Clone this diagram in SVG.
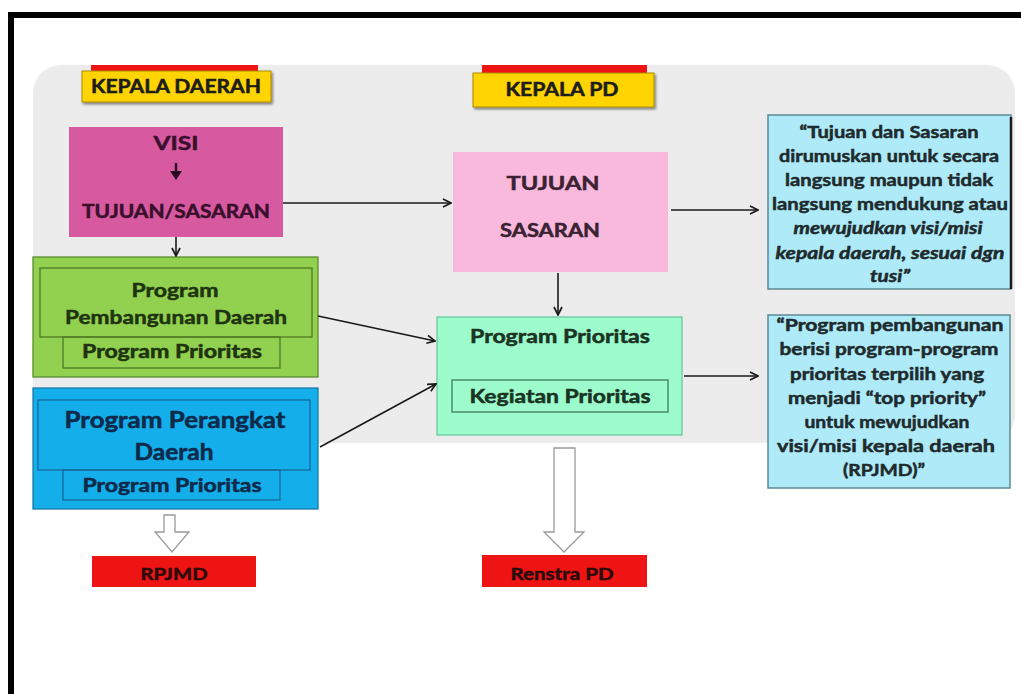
<svg xmlns="http://www.w3.org/2000/svg" width="1021" height="694" viewBox="0 0 1021 694">
<defs>
<marker id="arr" viewBox="0 0 10 10" refX="9" refY="5" markerWidth="10" markerHeight="10" markerUnits="userSpaceOnUse" orient="auto">
<path d="M1,1 L9,5 L1,9" fill="none" stroke="#1a1a1a" stroke-width="1.7"/>
</marker>
<filter id="sh" x="-5%" y="-10%" width="115%" height="130%">
<feDropShadow dx="1.5" dy="2" stdDeviation="1" flood-color="#000" flood-opacity="0.45"/>
</filter>
</defs>
<style>
text{font-family:Lato,"Open Sans","Liberation Sans",sans-serif;font-weight:bold;text-anchor:middle;fill:#1c1c1c;stroke:currentColor;stroke-width:0.5;color:#1c1c1c}
.conn line{stroke:#1a1a1a;stroke-width:1.6;marker-end:url(#arr)}
.red{fill:#ee1414}
.yel{fill:#ffd400;stroke:#a88a00;stroke-width:1}
.inG{fill:none;stroke:#4e7a26;stroke-width:1.3}
.inB{fill:none;stroke:#16699a;stroke-width:1.3}
.cyan{fill:#aeeaf8;stroke:#5a8894;stroke-width:1.5}
.q{font-size:17px;fill:#1e2a2c;color:#1e2a2c}
.it{font-style:italic}
.blk{fill:#fff;stroke:#9a9a9a;stroke-width:1.3}
.vis{fill:#3a0f2c;color:#3a0f2c}
.grn{fill:#1e3410;color:#1e3410}
.blu{fill:#0e2a4a;color:#0e2a4a}
.pnk{fill:#3a2232;color:#3a2232}
.mnt{fill:#1a3424;color:#1a3424}
.rd{fill:#2a0a0a;color:#2a0a0a}
</style>
<rect width="1021" height="694" fill="#fff"/>
<rect x="11" y="15" width="1040" height="700" fill="none" stroke="#000" stroke-width="6"/>
<rect x="33" y="65" width="982" height="378" rx="28" fill="#ececec"/>

<g id="kepala-daerah">
<rect class="red" x="91" y="65" width="167" height="7"/>
<rect class="yel" x="82" y="71" width="189" height="31" filter="url(#sh)"/>
<text x="176" y="93" font-size="18" textLength="170" lengthAdjust="spacingAndGlyphs">KEPALA DAERAH</text>
</g>

<g id="kepala-pd">
<rect class="red" x="482" y="65" width="165" height="8"/>
<rect class="yel" x="473" y="73" width="181" height="34" filter="url(#sh)"/>
<text x="562" y="96" font-size="18" textLength="113" lengthAdjust="spacingAndGlyphs">KEPALA PD</text>
</g>

<g id="visi">
<rect x="69" y="127" width="214" height="110" fill="#d75aa0"/>
<text class="vis" x="176" y="150" font-size="19" textLength="45" lengthAdjust="spacingAndGlyphs">VISI</text>
<path d="M176,163 V173" stroke="#2a0a20" stroke-width="2.5"/>
<path d="M170,171 L182,171 L176,180 Z" fill="#2a0a20"/>
<text class="vis" x="176" y="218" font-size="18" textLength="188" lengthAdjust="spacingAndGlyphs">TUJUAN/SASARAN</text>
</g>

<g id="program-pembangunan-daerah">
<rect x="33" y="257" width="285" height="120" fill="#92d050" stroke="#5a8a30" stroke-width="1.3"/>
<rect class="inG" x="40" y="268" width="272" height="69"/>
<rect class="inG" x="63" y="337" width="217" height="31"/>
<text class="grn" x="175" y="297" font-size="19" textLength="87" lengthAdjust="spacingAndGlyphs">Program</text>
<text class="grn" x="176" y="324" font-size="19" textLength="222" lengthAdjust="spacingAndGlyphs">Pembangunan Daerah</text>
<text class="grn" x="172" y="358" font-size="18" textLength="180" lengthAdjust="spacingAndGlyphs">Program Prioritas</text>
</g>

<g id="program-perangkat-daerah">
<rect x="33" y="388" width="285" height="121" fill="#14aeea" stroke="#1a7aa8" stroke-width="1.3"/>
<rect class="inB" x="38" y="400" width="272" height="70"/>
<rect class="inB" x="63" y="470" width="217" height="30"/>
<text class="blu" x="175" y="428" font-size="22" textLength="221" lengthAdjust="spacingAndGlyphs">Program Perangkat</text>
<text class="blu" x="174" y="460" font-size="22" textLength="79" lengthAdjust="spacingAndGlyphs">Daerah</text>
<text class="blu" x="172" y="492" font-size="18" textLength="179" lengthAdjust="spacingAndGlyphs">Program Prioritas</text>
</g>

<g id="tujuan-sasaran">
<rect x="453" y="152" width="215" height="120" fill="#f9b9dc"/>
<text class="pnk" x="553" y="190" font-size="19" textLength="93" lengthAdjust="spacingAndGlyphs">TUJUAN</text>
<text class="pnk" x="550" y="237" font-size="18" textLength="100" lengthAdjust="spacingAndGlyphs">SASARAN</text>
</g>

<g id="program-prioritas">
<rect x="437" y="317" width="245" height="118" fill="#9dfccc" stroke="#6ac8a0" stroke-width="1.3"/>
<rect x="452" y="380" width="216" height="32" fill="none" stroke="#3c7a5a" stroke-width="1.3"/>
<text class="mnt" x="560" y="343" font-size="18" textLength="180" lengthAdjust="spacingAndGlyphs">Program Prioritas</text>
<text class="mnt" x="560" y="403" font-size="18" textLength="181" lengthAdjust="spacingAndGlyphs">Kegiatan Prioritas</text>
</g>

<g id="note-tujuan">
<rect class="cyan" x="768" y="115" width="243" height="174"/>
<line x1="1011" y1="117" x2="1011" y2="289" stroke="#1a1a1a" stroke-width="2.5"/>
<text class="q" x="889" y="138" textLength="179" lengthAdjust="spacingAndGlyphs">“Tujuan dan Sasaran</text>
<text class="q" x="889" y="162" textLength="220" lengthAdjust="spacingAndGlyphs">dirumuskan untuk secara</text>
<text class="q" x="889" y="186" textLength="208" lengthAdjust="spacingAndGlyphs">langsung maupun tidak</text>
<text class="q" x="890" y="210" textLength="236" lengthAdjust="spacingAndGlyphs">langsung mendukung atau</text>
<text class="q it" x="888" y="234" textLength="189" lengthAdjust="spacingAndGlyphs">mewujudkan visi/misi</text>
<text class="q it" x="890" y="259" textLength="229" lengthAdjust="spacingAndGlyphs">kepala daerah, sesuai dgn</text>
<text class="q it" x="890" y="282" textLength="40" lengthAdjust="spacingAndGlyphs">tusi”</text>
</g>

<g id="note-program">
<rect class="cyan" x="768" y="315" width="242" height="173"/>
<text class="q" x="890" y="331" textLength="227" lengthAdjust="spacingAndGlyphs">“Program pembangunan</text>
<text class="q" x="889" y="355" textLength="219" lengthAdjust="spacingAndGlyphs">berisi program-program</text>
<text class="q" x="887" y="380" textLength="194" lengthAdjust="spacingAndGlyphs">prioritas terpilih yang</text>
<text class="q" x="887" y="404" textLength="198" lengthAdjust="spacingAndGlyphs">menjadi “top priority”</text>
<text class="q" x="887" y="428" textLength="165" lengthAdjust="spacingAndGlyphs">untuk mewujudkan</text>
<text class="q" x="886" y="452" textLength="218" lengthAdjust="spacingAndGlyphs">visi/misi kepala daerah</text>
<text class="q" x="884" y="476" textLength="82" lengthAdjust="spacingAndGlyphs">(RPJMD)”</text>
</g>

<g id="connectors" class="conn">
<line x1="176" y1="237" x2="176" y2="256"/>
<line x1="283" y1="203" x2="451" y2="203"/>
<line x1="671" y1="210" x2="758" y2="210"/>
<line x1="558" y1="273" x2="558" y2="315"/>
<line x1="318" y1="316" x2="435" y2="341"/>
<line x1="320" y1="447" x2="436" y2="384"/>
<line x1="684" y1="376" x2="758" y2="376"/>
</g>

<g id="arrow-rpjmd">
<path class="blk" d="M164,515 H175 V532 H189 L172,552 L155,532 H164 Z"/>
</g>
<g id="arrow-renstra">
<path class="blk" d="M554,448 H575 V532 H584 L564,552 L544,532 H554 Z"/>
</g>

<g id="rpjmd">
<rect class="red" x="92" y="556" width="164" height="31"/>
<text class="rd" x="174" y="580" font-size="17" textLength="67" lengthAdjust="spacingAndGlyphs">RPJMD</text>
</g>
<g id="renstra-pd">
<rect class="red" x="482" y="555" width="165" height="32"/>
<text class="rd" x="562" y="580" font-size="17" textLength="103" lengthAdjust="spacingAndGlyphs">Renstra PD</text>
</g>
</svg>
